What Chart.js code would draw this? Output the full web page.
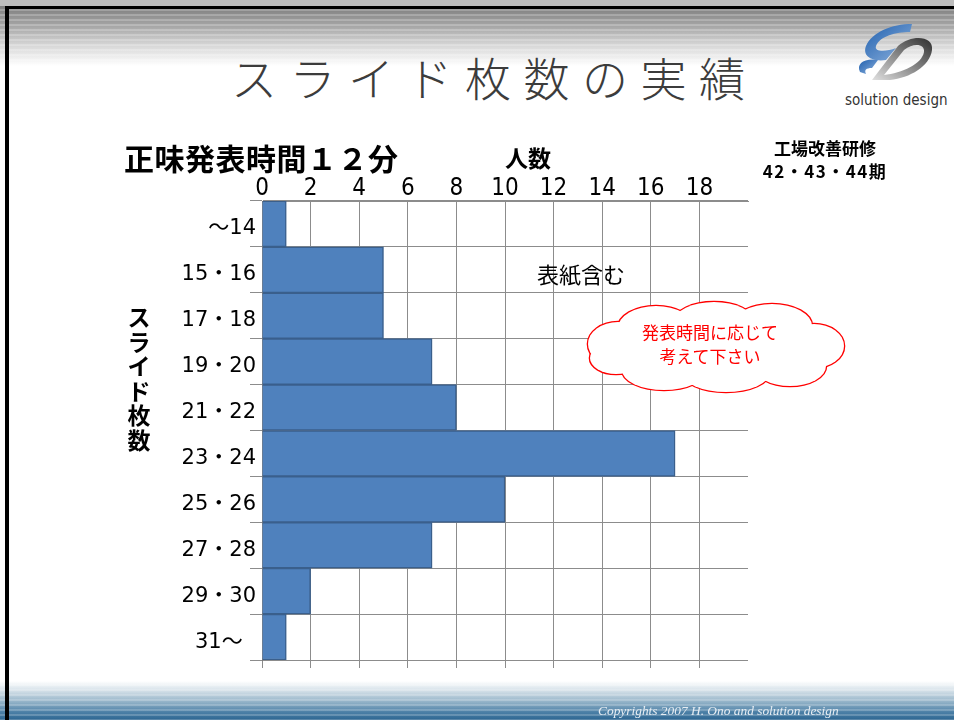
<!DOCTYPE html>
<html>
<head>
<meta charset="utf-8">
<script src="https://cdn.jsdelivr.net/npm/chart.js@4.4.1/dist/chart.umd.min.js"></script>
<style>
    html, body { margin: 0; padding: 0; background: #fff; }
    #slide { position: relative; width: 954px; height: 720px; overflow: hidden; background: #fff; }
    .header {
        position: absolute; left: 0; top: 6px; width: 954px; height: 60px;
        background:
            repeating-linear-gradient(to bottom, rgba(255,255,255,0) 0px, rgba(255,255,255,0) 3px, rgba(255,255,255,0.22) 3px, rgba(255,255,255,0.22) 5px),
            linear-gradient(to bottom, #7e7e7e 0%, #a8a8a8 35%, #d6d6d6 65%, #ffffff 100%);
    }
    .topline { position: absolute; left: 0; top: 0; width: 954px; height: 6px; background: #bdbdbd; }
    .footer {
        position: absolute; left: 0; top: 681px; width: 954px; height: 39px;
        background:
            repeating-linear-gradient(to bottom, rgba(255,255,255,0) 0px, rgba(255,255,255,0) 3px, rgba(255,255,255,0.2) 3px, rgba(255,255,255,0.2) 5px),
            linear-gradient(to bottom, #ffffff 0%, #d4e0e8 25%, #8fb0c6 55%, #4b7fa6 80%, #2d6691 100%);
    }
    .frame {
        position: absolute; left: 5px; top: 6px; width: 960px; height: 730px;
        border-left: 4px solid #000; border-top: 3px solid #000; box-sizing: border-box;
    }
    canvas { position: absolute; left: 0; top: 0; }
    .t { position: absolute; white-space: nowrap; line-height: 1; font-family: "Noto Sans CJK JP", sans-serif; color: #000; }
    .title { left: 231px; top: 53px; font-size: 46px; font-weight: 300; letter-spacing: 12.5px; color: #3c3c3c; }
    .sub { left: 124px; top: 142px; font-size: 30px; font-weight: bold; letter-spacing: 0.5px; }
    .ninzu { left: 505px; top: 146px; font-size: 23px; font-weight: bold; }
    .kenshu { left: 745px; top: 136px; width: 160px; text-align: center; font-size: 17px; font-weight: bold; line-height: 23px; }
    .kenshu span { letter-spacing: 1.5px; }
    .hyoshi { left: 537px; top: 262px; font-size: 22px; }
    .ytitle { left: 127px; top: 304px; width: 24px; font-size: 23px; font-weight: bold; line-height: 24.5px; white-space: normal; text-align: center; }
    .cloudtext { left: 610px; top: 320px; width: 200px; text-align: center; font-size: 17px; line-height: 24px; color: #f00; }
    .logotext { left: 845px; top: 93px; font-family: "Liberation Sans Narrow", "DejaVu Sans Condensed", "Liberation Sans", sans-serif; font-size: 15px; color: #333; }
    .copy { left: 598px; top: 704px; font-family: "Liberation Serif", serif; font-style: italic; font-size: 13.4px; color: #e6edf3; }
    svg { position: absolute; }
</style>
</head>
<body>
<div id="slide">
    <div class="topline"></div>
    <div class="header"></div>
    <div class="footer"></div>
    <div class="frame"></div>

    <svg style="left:852px; top:22px;" width="84" height="62" viewBox="0 0 84 62">
        <defs>
            <linearGradient id="gd" x1="0" y1="1" x2="1" y2="0">
                <stop offset="0" stop-color="#e0e0e0"/>
                <stop offset="1" stop-color="#2e2e2e"/>
            </linearGradient>
            <linearGradient id="gb" x1="0" y1="0" x2="1" y2="1">
                <stop offset="0" stop-color="#1f5fae"/>
                <stop offset="1" stop-color="#8fb3de"/>
            </linearGradient>
        </defs>
        <path d="M20 58 L46 24 C60 12 82 14 80 28 C78 44 58 56 38 58 Z M32 53 C50 51 70 42 72 30 C73 22 62 20 52 28 Z" fill="url(#gd)" fill-rule="evenodd"/>
        <path d="M60 2 C40 2 20 10 14 24 C10 34 20 40 34 38 L44 26 C34 30 22 30 24 24 C28 14 44 10 58 10 Z" fill="url(#gb)"/>
        <path d="M8 50 C4 42 12 36 26 38 L20 46 C14 46 12 48 14 52 Z" fill="url(#gb)"/>
    </svg>
    <div class="t logotext">solution design</div>

    <div class="t title">スライド枚数の実績</div>

    <canvas id="chart" width="954" height="720"></canvas>

    <div class="t sub">正味発表時間１２分</div>
    <div class="t ninzu">人数</div>
    <div class="t kenshu">工場改善研修<br><span>42・43・44期</span></div>
    <div class="t hyoshi">表紙含む</div>
    <div class="t ytitle">スライド枚数</div>

    <svg style="left:576px; top:300px;" width="276" height="96" viewBox="0 0 276 96">
        <g fill="none" stroke="#f00" stroke-width="2.6">
            <ellipse cx="42" cy="44" rx="30" ry="22"/>
            <ellipse cx="80" cy="28" rx="38" ry="22"/>
            <ellipse cx="138" cy="22" rx="40" ry="20"/>
            <ellipse cx="196" cy="26" rx="40" ry="22"/>
            <ellipse cx="238" cy="46" rx="30" ry="22"/>
            <ellipse cx="214" cy="66" rx="36" ry="20"/>
            <ellipse cx="150" cy="72" rx="44" ry="20"/>
            <ellipse cx="88" cy="70" rx="42" ry="20"/>
            <ellipse cx="40" cy="58" rx="26" ry="16"/>
        </g>
        <g fill="#fff" stroke="none">
            <ellipse cx="42" cy="44" rx="30" ry="22"/>
            <ellipse cx="80" cy="28" rx="38" ry="22"/>
            <ellipse cx="138" cy="22" rx="40" ry="20"/>
            <ellipse cx="196" cy="26" rx="40" ry="22"/>
            <ellipse cx="238" cy="46" rx="30" ry="22"/>
            <ellipse cx="214" cy="66" rx="36" ry="20"/>
            <ellipse cx="150" cy="72" rx="44" ry="20"/>
            <ellipse cx="88" cy="70" rx="42" ry="20"/>
            <ellipse cx="40" cy="58" rx="26" ry="16"/>
            <rect x="50" y="30" width="180" height="44"/>
        </g>
    </svg>
    <div class="t cloudtext">発表時間に応じて<br>考えて下さい</div>

    <div class="t copy">Copyrights 2007 H. Ono and solution design</div>
</div>

<script>
// Slide count classes and number of people in each
const categories = ["～14", "15・16", "17・18", "19・20", "21・22", "23・24", "25・26", "27・28", "29・30", "31～  "];
const counts = [1, 5, 5, 7, 8, 17, 10, 7, 2, 1];
const xTickValues = [0, 2, 4, 6, 8, 10, 12, 14, 16, 18];
const xMax = 20;

const gridColor = "#8c8c8c";

function setTicks(axis) {
    axis.ticks = xTickValues.map(v => ({ value: v }));
}

const ctx = document.getElementById("chart").getContext("2d");

new Chart(ctx, {
    type: "bar",
    data: {
        labels: categories,
        datasets: [
            {
                label: "人数",
                data: counts,
                backgroundColor: "#4f81bd",
                borderColor: "#3a5f8c",
                borderWidth: 1.5,
                barPercentage: 1,
                categoryPercentage: 1,
            }
        ]
    },
    options: {
        indexAxis: "y",
        responsive: false,
        animation: false,
        layout: {
            padding: { left: 0, top: 0, right: 206, bottom: 50 }
        },
        plugins: {
            legend: { display: false },
            tooltip: { enabled: false }
        },
        scales: {
            x: {
                position: "top",
                min: 0,
                max: xMax,
                afterBuildTicks: setTicks,
                afterFit: (s) => { s.height = 201; },
                ticks: {
                    color: "#000",
                    padding: -2,
                    font: { family: "'Liberation Sans Narrow', 'DejaVu Sans Condensed', sans-serif", size: 24 }
                },
                grid: { color: gridColor, drawTicks: false },
                border: { display: true, color: gridColor }
            },
            x2: {
                axis: "x",
                position: "bottom",
                min: 0,
                max: xMax,
                afterBuildTicks: setTicks,
                afterFit: (s) => { s.height = 10; },
                ticks: { display: false },
                grid: { color: gridColor, drawOnChartArea: false, tickLength: 8 },
                border: { display: false }
            },
            y: {
                position: "left",
                afterFit: (s) => { s.width = 262; },
                ticks: {
                    color: "#000",
                    padding: -6,
                    labelOffset: 5,
                    font: { family: "'DejaVu Sans', 'Noto Sans CJK JP', sans-serif", size: 21 }
                },
                grid: { color: gridColor, offset: true, tickLength: 12 },
                border: { display: true, color: "#7a7a7a" }
            }
        }
    }
});
</script>
</body>
</html>
